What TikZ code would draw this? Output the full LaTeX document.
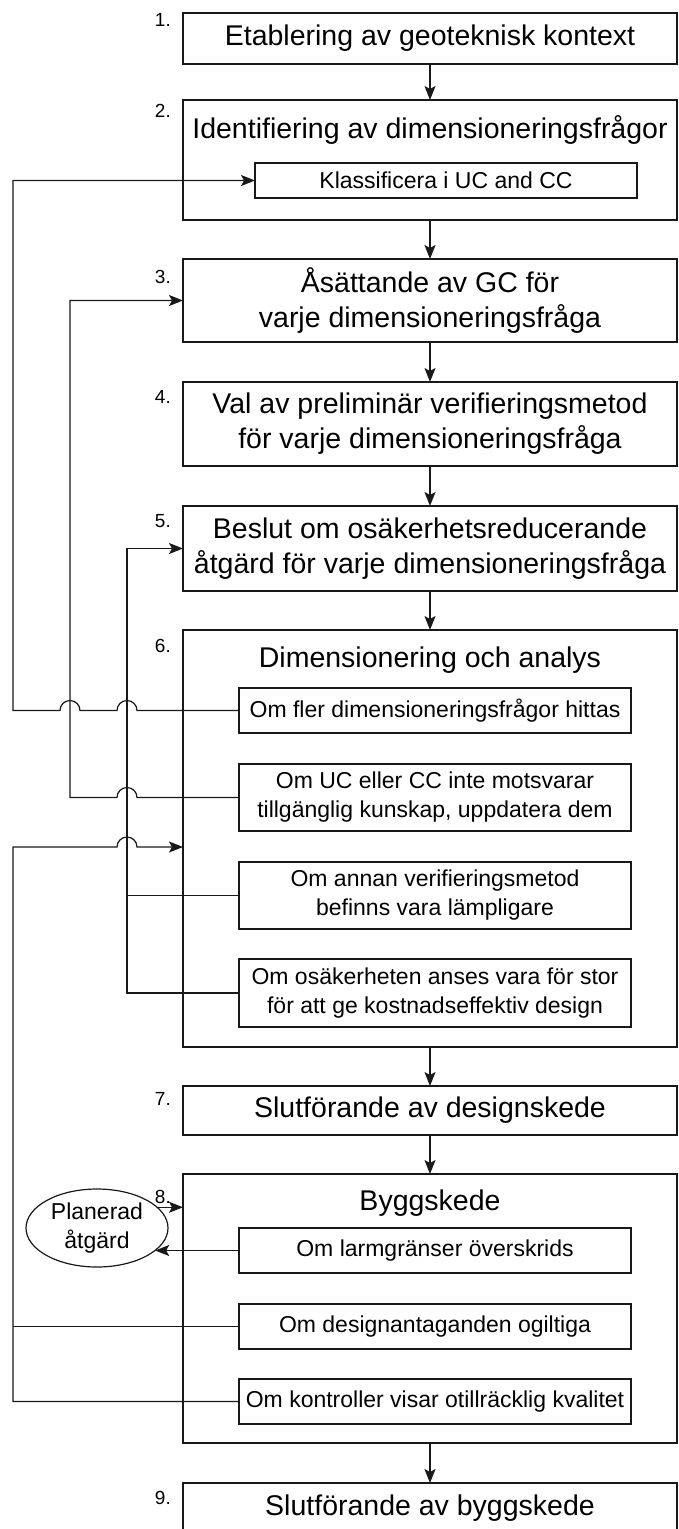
\documentclass[tikz,border=0pt]{standalone}
\usepackage{fontspec}
\setmainfont{Liberation Sans}
\usetikzlibrary{arrows.meta, positioning, shapes.geometric, calc}
\definecolor{linegray}{RGB}{25,25,25}
\newcommand{\titlesize}{\fontsize{28.5}{35}\selectfont}
\newcommand{\subsize}{\fontsize{23}{29}\selectfont}
\newcommand{\numsize}{\fontsize{19}{22}\selectfont}

\begin{document}
\begin{tikzpicture}[
		x=1pt, y=-1pt,
		node distance=39pt,
		mainbox/.style={draw=linegray, line width=2.5pt, minimum width=494pt,
			inner sep=0pt, outer sep=0pt, align=center, font=\titlesize},
		subbox/.style={draw=linegray, line width=1.2pt, minimum width=392pt,
			inner sep=0pt, outer sep=0pt, align=center, font=\subsize},
		boxtitle/.style={inner sep=0pt, font=\titlesize},
		steplabel/.style={anchor=east, inner sep=0pt, font=\numsize},
		planbox/.style={draw=linegray, ellipse, line width=1.2pt, minimum width=142pt,
			minimum height=78pt, inner sep=0pt, outer sep=0pt, align=center, font=\subsize},
		arrow/.style={-{Stealth[length=14pt, width=11pt, inset=3pt]}, line width=1.2pt, draw=linegray},
		link/.style={line width=1.2pt, draw=linegray}
	]
		\useasboundingbox (0,0) rectangle (679,1529);

		\node[mainbox, minimum height=51pt] (step1) at (430,38.5) {Etablering av geoteknisk kontext};
		\node[mainbox, minimum height=120pt, below=36pt of step1] (step2) {};
		\node[mainbox, minimum height=83pt, below=of step2] (step3) {Åsättande av GC för\\varje dimensioneringsfråga};
		\node[mainbox, minimum height=84pt, below=40pt of step3] (step4) {Val av preliminär verifieringsmetod\\för varje dimensioneringsfråga};
		\node[mainbox, minimum height=85pt, below=40pt of step4] (step5) {Beslut om osäkerhetsreducerande\\åtgärd för varje dimensioneringsfråga};
		\node[mainbox, minimum height=417pt, below=of step5] (step6) {};
		\node[mainbox, minimum height=49pt, below=of step6] (step7) {Slutförande av designskede};
		\node[mainbox, minimum height=269pt, below=of step7] (step8) {};
		\node[mainbox, minimum height=50pt, below=40pt of step8] (step9) {Slutförande av byggskede};

		\node[boxtitle] (title2) at ([yshift=-30pt]step2.north) {Identifiering av dimensioneringsfrågor};
		\node[boxtitle] (title6) at ([yshift=-30pt]step6.north) {Dimensionering och analys};
		\node[boxtitle] (title8) at ([yshift=-29pt]step8.north) {Byggskede};

		\node[steplabel] (num1) at (171,20) {1.};
		\node[steplabel] (num2) at (171,111) {2.};
		\node[steplabel] (num3) at (171,277) {3.};
		\node[steplabel] (num4) at (171,397) {4.};
		\node[steplabel] (num5) at (171,521) {5.};
		\node[steplabel] (num6) at (171,646) {6.};
		\node[steplabel] (num7) at (171,1099) {7.};
		\node[steplabel] (num8) at (171,1197) {8.};
		\node[steplabel] (num9) at (171,1498) {9.};

		\node[subbox, minimum width=382pt, minimum height=35pt, below right=63pt and 72pt of step2.north west] (classify) {Klassificera i UC and CC};

		\node[subbox, minimum height=45pt, below right=58pt and 56pt of step6.north west] (more) {Om fler dimensioneringsfrågor hittas};
		\node[subbox, minimum height=67pt, below=31pt of more] (knowledge) {Om UC eller CC inte motsvarar\\tillgänglig kunskap, uppdatera dem};
		\node[subbox, minimum height=67pt, below=31pt of knowledge] (method) {Om annan verifieringsmetod\\befinns vara lämpligare};
		\node[subbox, minimum height=68pt, below=30pt of method] (uncertain) {Om osäkerheten anses vara för stor\\för att ge kostnadseffektiv design};

		\node[subbox, minimum height=45pt, below right=54pt and 56pt of step8.north west] (alarm) {Om larmgränser överskrids};
		\node[subbox, minimum height=45pt, below=31pt of alarm] (invalid) {Om designantaganden ogiltiga};
		\node[subbox, minimum height=45pt, below=30pt of invalid] (control) {Om kontroller visar otillräcklig kvalitet};

		\node[planbox] (planned) at (97,1228) {Planerad\\åtgärd};

		\coordinate (lane1) at (13,0);
		\coordinate (lane2) at (70,0);
		\coordinate (lane3) at (127,0);
		\coordinate (in6) at ($(step6.north west)+(0,217)$);

		\draw[arrow] (step1) -- (step2);
		\draw[arrow] (step2) -- (step3);
		\draw[arrow] (step3) -- (step4);
		\draw[arrow] (step4) -- (step5);
		\draw[arrow] (step5) -- (step6);
		\draw[arrow] (step6) -- (step7);
		\draw[arrow] (step7) -- (step8);
		\draw[arrow] (step8) -- (step9);

		% feedback lines, hopping over the lanes they cross
		\draw[arrow] (more.west)
			-- ($(lane3 |- more.west)+(10,0)$) arc[start angle=0, end angle=180, radius=10pt]
			-- ($(lane2 |- more.west)+(10,0)$) arc[start angle=0, end angle=180, radius=10pt]
			-- (lane1 |- more.west) |- (classify.west);
		\draw[arrow] (knowledge.west)
			-- ($(lane3 |- knowledge.west)+(10,0)$) arc[start angle=0, end angle=180, radius=10pt]
			-- (lane2 |- knowledge.west) |- (step3.west);
		\draw[arrow] (uncertain.west) -- (uncertain.west -| lane3) |- (step5.west);
		\draw[link] (method.west) -- (method.west -| lane3);

		\draw[arrow] (control.west) -- (control.west -| lane1)
			|- ($(lane3 |- in6)-(10,0)$) arc[start angle=180, end angle=0, radius=10pt]
			-- (in6);
		\draw[link] (invalid.west) -- (invalid.west -| lane1);

		\draw[arrow] (planned.19) -- (planned.19 -| step8.west);
		\draw[arrow] (alarm.west) -- (alarm.west -| planned.-21);
	\end{tikzpicture}
\end{document}
